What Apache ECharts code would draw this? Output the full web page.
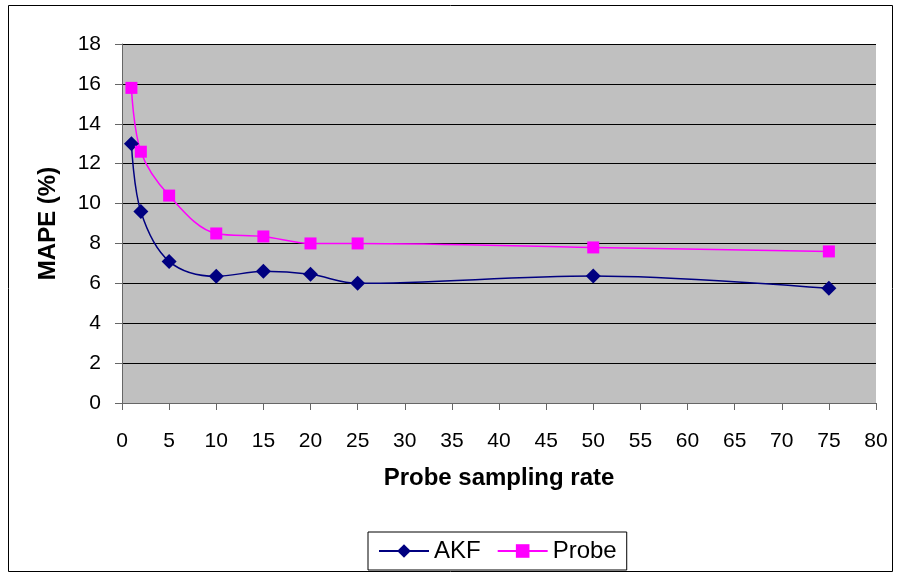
<!DOCTYPE html>
<html>
<head>
<meta charset="utf-8">
<script src="https://cdn.jsdelivr.net/npm/echarts@6/dist/echarts.min.js"></script>
<style>
  html, body { margin: 0; padding: 0; background: #fff; }
  #chart { width: 899px; height: 576px; }
</style>
</head>
<body>
<div id="chart"></div>
<script>
// sampling rates on the x axis
var rates = [1, 2, 5, 10, 15, 20, 25, 50, 75]
// MAPE values
var akf = [13.0, 9.6, 7.1, 6.35, 6.6, 6.45, 6.0, 6.37, 5.75]
var probe = [15.8, 12.6, 10.4, 8.5, 8.35, 8.0, 8.0, 7.8, 7.6]

var pairs = function (xs, ys) {
  return xs.map(function (x, i) { return [x, ys[i]] })
}

var myChart = echarts.init(document.getElementById('chart'))
var font = 'Liberation Sans, Arial, sans-serif'

var option = {
  animation: false,
  graphic: [{
    type: 'rect',
    shape: { x: 8.5, y: 5.5, width: 884, height: 566 },
    style: { fill: 'none', stroke: '#000', lineWidth: 1 },
    silent: true
  }],
  grid: {
    left: 122, right: 23, top: 44, bottom: 173,
    show: true, backgroundColor: '#C0C0C0', borderWidth: 0
  },
  legend: {
    bottom: 6,
    left: 368,
    itemWidth: 50,
    itemHeight: 17,
    itemGap: 16,
    padding: [7, 10, 7, 10],
    borderColor: '#000',
    borderWidth: 1,
    textStyle: { fontFamily: font, fontSize: 24, color: '#000' },
    data: ['AKF', 'Probe']
  },
  xAxis: {
    type: 'value',
    min: 0, max: 80, interval: 5,
    name: 'Probe sampling rate',
    nameLocation: 'middle',
    nameGap: 63,
    nameTextStyle: { fontFamily: font, fontSize: 24, fontWeight: 'bold', color: '#000' },
    axisLine: { lineStyle: { color: '#666', width: 1 } },
    axisTick: { show: true, inside: false, length: 7, lineStyle: { color: '#666' } },
    axisLabel: { margin: 28, fontFamily: font, fontSize: 21, color: '#000' },
    splitLine: { show: false }
  },
  yAxis: {
    type: 'value',
    min: 0, max: 18, interval: 2,
    name: 'MAPE (%)',
    nameLocation: 'middle',
    nameGap: 62,
    nameTextStyle: { fontFamily: font, fontSize: 24, fontWeight: 'bold', color: '#000' },
    axisLine: { show: true, lineStyle: { color: '#666', width: 1 } },
    axisTick: { show: true, inside: false, length: 7, lineStyle: { color: '#666' } },
    axisLabel: { margin: 21, fontFamily: font, fontSize: 21, color: '#000' },
    splitLine: { show: true, lineStyle: { color: '#000', width: 1 } }
  },
  series: [{
    name: 'AKF',
    type: 'line',
    smooth: 0.35,
    data: pairs(rates, akf),
    symbol: 'diamond',
    symbolSize: 15,
    itemStyle: { color: '#000080' },
    lineStyle: { color: '#000080', width: 1.5 }
  }, {
    name: 'Probe',
    type: 'line',
    smooth: 0.35,
    data: pairs(rates, probe),
    symbol: 'rect',
    symbolSize: 12,
    itemStyle: { color: '#FF00FF' },
    lineStyle: { color: '#FF00FF', width: 1.5 }
  }]
}
myChart.setOption(option)
</script>
</body>
</html>
